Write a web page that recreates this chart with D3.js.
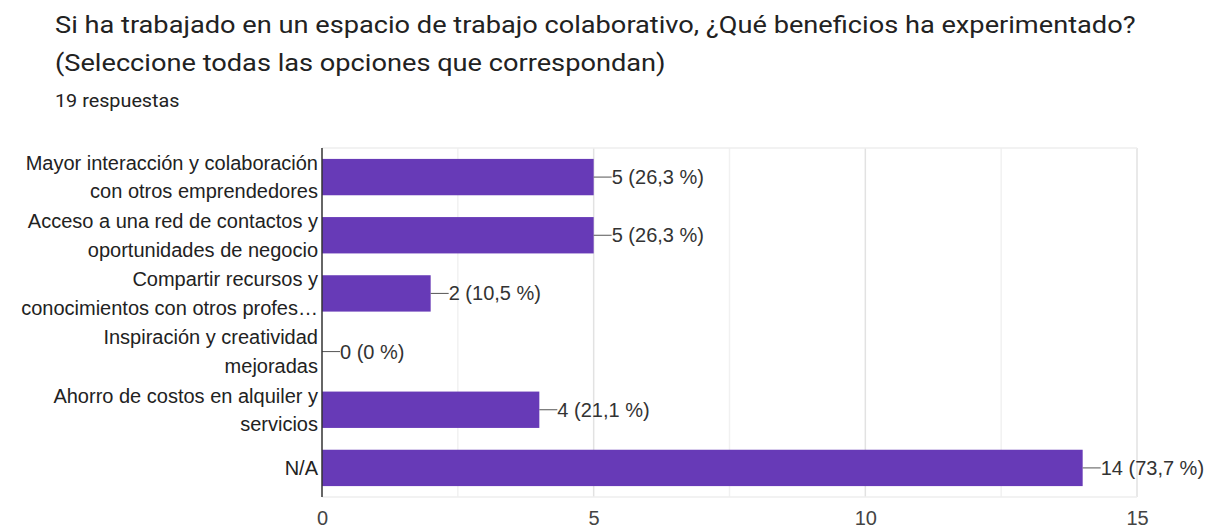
<!DOCTYPE html>
<html><head><meta charset="utf-8">
<script src="https://cdn.jsdelivr.net/npm/d3@7"></script>
<style>body{margin:0;background:#fff;}svg{display:block;}</style>
</head><body>
<svg id="c" width="1212" height="529"></svg>
<script>
const titleLines = ["Si ha trabajado en un espacio de trabajo colaborativo, ¿Qué beneficios ha experimentado?", "(Seleccione todas las opciones que correspondan)"];
const subtitle = "19 respuestas";
const categories = [
  ["Mayor interacción y colaboración", "con otros emprendedores"],
  ["Acceso a una red de contactos y", "oportunidades de negocio"],
  ["Compartir recursos y", "conocimientos con otros profes…"],
  ["Inspiración y creatividad", "mejoradas"],
  ["Ahorro de costos en alquiler y", "servicios"],
  ["N/A"]
];
const values = [5, 5, 2, 0, 4, 14];
const percents = ["26,3 %", "26,3 %", "10,5 %", "0 %", "21,1 %", "73,7 %"];
const xTicks = [0, 5, 10, 15];
const minorTicks = [2.5, 7.5, 12.5];

(function() {
const svg = d3.select("#c");
const pL = 322, pR = 1137, pT = 148, pB = 497;
const x = d3.scaleLinear().domain([0, 15]).range([pL, pR]);
const y = d3.scaleBand().domain(d3.range(values.length)).range([pT, pB]).paddingInner(0.375).paddingOuter(0.1875);

const head = svg.append("g").attr("transform", "translate(55,0) scale(1.11,1)");
head.selectAll("text.title").data(titleLines).join("text")
  .attr("x", 0).attr("y", (d, i) => 33.5 + i * 38)
  .attr("font-family", "Roboto, sans-serif").attr("font-size", 24.5)
  .attr("fill", "#222").text(d => d);
svg.append("g").attr("transform", "translate(55,0) scale(1.1,1)")
  .append("text").attr("x", 0).attr("y", 107.5)
  .attr("font-family", "Roboto, sans-serif").attr("font-size", 18)
  .attr("fill", "#222").text(subtitle);

// grid
svg.append("g").selectAll("line").data(minorTicks).join("line")
  .attr("x1", d => x(d)).attr("x2", d => x(d)).attr("y1", pT).attr("y2", pB)
  .attr("stroke", "#f1f1f1").attr("stroke-width", 1.5);
svg.append("g").selectAll("line").data(xTicks.slice(1)).join("line")
  .attr("x1", d => x(d)).attr("x2", d => x(d)).attr("y1", pT).attr("y2", pB)
  .attr("stroke", "#e2e2e2").attr("stroke-width", 1.5);
svg.append("line").attr("x1", pL).attr("x2", pR).attr("y1", pT).attr("y2", pT).attr("stroke", "#eeeeee").attr("stroke-width", 1.5);
svg.append("line").attr("x1", pL).attr("x2", pR).attr("y1", pB).attr("y2", pB).attr("stroke", "#eeeeee").attr("stroke-width", 1.5);

// bars
svg.append("g").selectAll("rect").data(values).join("rect")
  .attr("x", x(0)).attr("y", (d, i) => y(i))
  .attr("width", d => x(d) - x(0)).attr("height", y.bandwidth())
  .attr("fill", "#673ab7");

// value labels
const vl = svg.append("g").selectAll("g").data(values).join("g")
  .attr("transform", (d, i) => `translate(${x(d)},${y(i) + y.bandwidth() / 2})`);
vl.append("line").attr("x1", 0).attr("x2", 18).attr("stroke", "#555").attr("stroke-width", 1);
vl.append("text").attr("x", 18).attr("dy", "0.35em")
  .attr("font-family", "'Liberation Sans', Arial, sans-serif").attr("font-size", 20)
  .attr("fill", "#333").text((d, i) => `${d} (${percents[i]})`);

// y axis
svg.append("line").attr("x1", pL).attr("x2", pL).attr("y1", pT).attr("y2", pB).attr("stroke", "#333").attr("stroke-width", 1.5);
const yl = svg.append("g").selectAll("text").data(categories).join("text")
  .attr("text-anchor", "end")
  .attr("font-family", "'Liberation Sans', Arial, sans-serif").attr("font-size", 20)
  .attr("fill", "#222");
yl.each(function(lines, i) {
  const cy = y(i) + y.bandwidth() / 2;
  const lh = 28.5;
  const t = d3.select(this);
  lines.forEach((l, j) => {
    t.append("tspan").attr("x", pL - 4)
      .attr("y", cy + (j - (lines.length - 1) / 2) * lh).attr("dy", "0.35em").text(l);
  });
});

// x axis labels
const xAxis = d3.axisBottom(x).tickValues(xTicks).tickSize(0).tickPadding(14);
const xg = svg.append("g").attr("transform", `translate(0,${pB})`).call(xAxis);
xg.select(".domain").remove();
xg.selectAll("text").attr("font-family", "'Liberation Sans', Arial, sans-serif").attr("font-size", 20).attr("fill", "#444");
})();
</script>
</body></html>
